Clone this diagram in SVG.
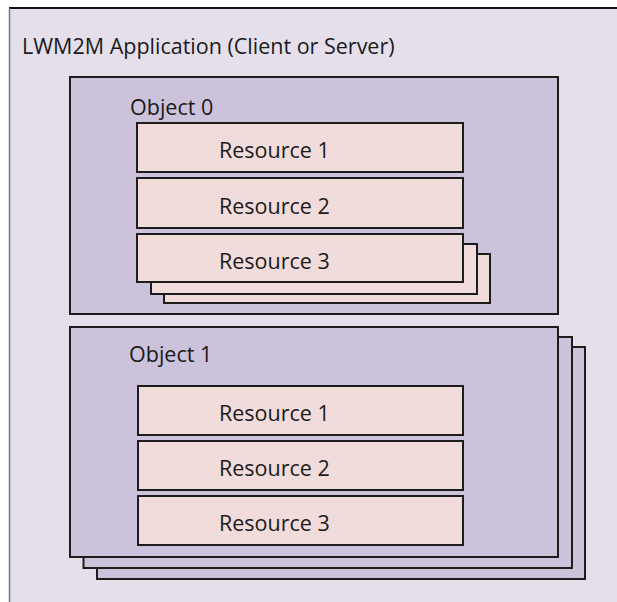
<svg xmlns="http://www.w3.org/2000/svg" width="617" height="602" viewBox="0 0 617 602">
<style>
.obj{fill:#CCC2DB;stroke:#1c1c1c;stroke-width:2}
.res{fill:#F2DCDB;stroke:#1c1c1c;stroke-width:2}
.t{font-family:"Open Sans","Noto Sans","Liberation Sans",sans-serif;font-size:21.5px;fill:#1a1a1a}
</style>
<rect x="0" y="0" width="617" height="602" fill="#ffffff"/>
<g id="app">
<rect x="9" y="8" width="608" height="594" fill="#E5DFEB"/>
<line x1="9" y1="8" x2="617" y2="8" stroke="#111" stroke-width="2.2"/>
<line x1="9.5" y1="8" x2="9.5" y2="602" stroke="#7a7a7a" stroke-width="1.5"/>
<text class="t" x="22" y="54">LWM2M Application (Client or Server)</text>
</g>
<g id="object0">
<rect class="obj" x="70" y="77" width="488" height="237"/>
<text class="t" x="130" y="115">Object 0</text>
</g>
<g id="obj0-res1">
<rect class="res" x="137" y="123" width="326" height="49"/>
<text class="t" x="219" y="158">Resource 1</text>
</g>
<g id="obj0-res2">
<rect class="res" x="137" y="178" width="326" height="50"/>
<text class="t" x="219" y="214">Resource 2</text>
</g>
<g id="obj0-res3">
<rect class="res" x="164" y="254" width="326" height="49"/>
<rect class="res" x="151" y="244" width="326" height="50"/>
<rect class="res" x="137" y="234" width="326" height="48"/>
<text class="t" x="219" y="269">Resource 3</text>
</g>
<g id="object1">
<rect class="obj" x="97" y="347" width="488" height="232"/>
<rect class="obj" x="83.5" y="337" width="488.5" height="231"/>
<rect class="obj" x="70" y="327" width="488" height="230"/>
<text class="t" x="129" y="362">Object 1</text>
</g>
<g id="obj1-res1">
<rect class="res" x="138" y="386" width="325" height="49"/>
<text class="t" x="219" y="421">Resource 1</text>
</g>
<g id="obj1-res2">
<rect class="res" x="138" y="441" width="325" height="49"/>
<text class="t" x="219" y="476">Resource 2</text>
</g>
<g id="obj1-res3">
<rect class="res" x="138" y="496" width="325" height="49"/>
<text class="t" x="219" y="531">Resource 3</text>
</g>
<g id="connectors"/>
</svg>
